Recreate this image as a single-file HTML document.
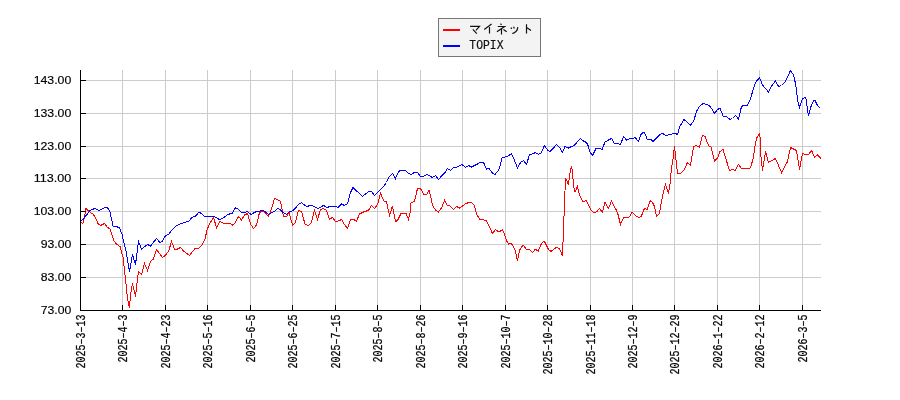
<!DOCTYPE html><html><head><meta charset="utf-8"><style>html,body{margin:0;padding:0;background:#fff;}svg{display:block;will-change:transform;}</style></head><body>
<svg width="900" height="400" viewBox="0 0 900 400">
<rect x="0" y="0" width="900" height="400" fill="#fff"/>
<path d="M122.5 70V310M165.5 70V310M207.5 70V310M250.5 70V310M292.5 70V310M335.5 70V310M377.5 70V310M420.5 70V310M462.5 70V310M505.5 70V310M547.5 70V310M590.5 70V310M632.5 70V310M674.5 70V310M717.5 70V310M759.5 70V310M802.5 70V310M86 80.5H821M86 113.5H821M86 146.5H821M86 178.5H821M86 211.5H821M86 244.5H821M86 277.5H821" stroke="#cccccc" stroke-width="1" fill="none" shape-rendering="crispEdges"/>
<g fill="none" stroke-width="1" stroke-linejoin="miter" stroke-linecap="butt" shape-rendering="crispEdges">
<polyline points="80,221.3 81,222.5 83,223.5 84.5,216.5 86,208.5 88.5,211 90.5,212.5 93,214 95.5,217.5 98,223.5 100.5,225.5 104.5,223.5 107,227 110,229 112.5,236 114,241 117,244.5 120,246.5 123,257 125,274.5 126.5,288.5 127.25,296.5 128.5,303.5 129.5,307.5 130.5,295.5 132.5,283.5 135.5,296.5 137,283.5 138.5,271.5 141.5,274.5 144.5,263.5 147.5,270.5 150.5,261.5 153.5,259 156.5,249.5 162.5,257.5 165,255.5 168.5,251.5 171.5,241.5 174.5,249 177.5,249 180.5,247.5 184,251.5 189.5,255.5 195,248.5 198.5,248.5 202.5,244.5 205,239 207,230 209,225 213.5,217 216.5,228 220,221.5 223,223 229,223 232.5,225 235,223 238.5,216.5 241.5,220 244.5,215 247.5,213.5 250.5,224 253.5,228.5 256.5,225 259.5,212.5 262.5,211 265.5,213 268.5,216.5 271.5,209 274.5,198.5 277,199.5 280.5,201.5 283.5,216.5 286.5,216.5 289,212.5 292.5,225 295,223.5 298.5,210.5 301.5,211.5 305,224 308,225.5 311,223.5 314.5,210.5 317.5,219.5 320.5,209.5 323.5,208.5 326.5,210.5 329.5,219 332.5,217.5 335.5,221.5 338.5,221 341.5,219.5 344.5,224.5 347.5,228.5 350.5,219.5 353.5,219.5 356.5,221 359.5,214 364.5,211.5 368.5,210.5 371.5,205.5 374.5,208.5 377.5,204.5 380.5,193.5 384,201 386.5,202 389.5,215.5 392.5,206 395.5,221.5 397.5,220.5 401,213.5 406,213.5 408.5,219.5 410.5,210.5 411,203 414.5,201 417.5,188.5 420.5,188.5 424,194.5 427,194 429,190.5 431,198 432.5,205.5 435.5,210 438.5,212 441.5,208 444.5,200.5 447,205 450,206 453.5,209.5 456.5,206.5 459.5,208 462.5,206 466,203.5 469,202.5 472,203 474.5,205.5 476.5,214 480,220 483,219.5 486.5,221 489,226 492.5,233.5 495.5,229.5 499,232 502.5,229.5 504.5,234 506.5,240.5 508.5,244.25 510.75,243.25 512.5,244.75 514.5,249 515.5,251.5 516.5,257 517.5,260.5 518.5,255 519.5,250.5 520.5,248.5 523.25,245 525.5,248 526.25,249.5 529.5,249.5 532.5,252.5 535.25,249.25 538.5,251.25 539.5,247.75 541.5,243.5 542.5,242.25 544.5,241.5 548.5,249.5 551,251.5 554,249 557,247 559.5,249 562.5,255.5 565.5,178 567,181 568.5,185 569.5,176 570.5,170 571.5,166.5 572.5,171.5 573,178.5 574,188 575,192 577.5,186.5 579.5,195 583,202 586.5,200.5 590.5,209.5 593.5,212.5 596.5,212 599.5,208.5 602.5,212.5 605,202.5 608.5,208.5 611.5,201 616.5,210.5 618,214.5 620.5,224.5 623.5,217.5 629.5,217 632.25,212 636.5,216.5 639,217.5 641.5,216 643.5,210.5 644.5,208.5 647.5,209.5 648.5,205 650.5,200.5 652.5,202.5 654.5,206.5 655.5,211 656.5,216 659.5,213.5 660.5,206.5 661.5,201.5 662.5,196.5 663.5,191.5 665.5,184.5 668.5,193.5 670,184 671.5,168 673,159 674.5,146 676,160 677.5,173.5 680.5,173.5 684,170 687.5,162.5 690.5,165.5 693.5,146.5 696,145.5 699.5,147 702.5,135.5 705,136.5 708.5,145.5 711,147 714.5,161 717.5,158 720,151.5 723,149.5 729.5,170.5 732.5,169.5 735,170.5 738.5,164.5 741.5,168.5 750.5,168 753,159 755,146.5 756.5,138.5 759.5,133.5 760.5,141 760.5,152 762.5,170.5 765.5,151.5 768.5,162.5 772,160.5 775.5,158.5 781.5,172.5 787.5,161.5 790.5,147.5 793.5,149 796.5,150.5 799.5,169.5 802.5,153.5 805,154.5 808.5,154.5 811.5,150.5 814.5,157 817.5,155 821,158.5" stroke="#ff0000"/>
<polyline points="80,221.3 81,220.5 83,219.5 85,216.5 87.5,214 90,210.5 92.5,209.5 95,208.2 98.5,210.5 102,209 105,207.3 107.5,207.5 110,212 113,226 116.5,226.5 119.5,228 122,234 123,239 126,251 129.5,271.5 132.5,254.5 135.5,264.5 138.5,241.5 141.5,249 147.5,244.5 150.5,246 156.5,238.5 160,242.5 162.5,241 165.5,235.5 169,234 172,230 175,226.8 179,224.5 183,223 186,222 189,221 192,217.5 195.5,216 199,212.2 201.5,213.5 204.5,216.5 208,216.5 214,216.5 219.5,219.5 223,218 228,214.5 232.5,213 235.5,207.5 238.5,209.5 241.5,212.5 245,212.5 247,211.2 251,214.5 254.5,212.5 256.5,211.5 259.5,211.2 262.5,210.5 265,211.5 268.5,214.5 271.5,212.5 274.5,211.2 277.5,208.5 280,209.5 283,212.5 286.5,214.5 289.5,211.5 292.5,211 296,207.5 298.5,204.5 301.5,202.5 304.5,205 307,206.5 310,205.5 313,206 318,208.5 323.5,205.5 327,207.5 330,206.5 336.5,206.5 338,207.5 341.5,204 344.5,205.5 347.5,203.5 349,198.5 350.5,192.5 353,187.5 362.5,196.5 368.5,191.5 371.5,191.5 374.5,195.5 380,190 384,186 386.5,182.5 388.5,177.5 392.5,173.5 395.5,178.5 398.5,171.5 401,170.2 405.5,170.2 408.5,173.5 411,174.5 414.5,172.5 417.5,172.5 420.5,176.5 423.5,176.2 427,174.5 432.5,177.5 435.5,175.5 438.5,179.5 442,175.5 445,172.5 447.5,168.5 450.5,170.5 453.5,167.5 457,167.2 462,164.5 465.5,167.5 468.5,165.5 471.5,167 474.5,165.5 477.5,164 480.5,162.2 483.5,162.5 486.5,169 489,168.5 492.5,173 495,174.5 499,169.5 502,158 504.5,157.2 507.5,156.5 511.5,153.5 514.5,160.5 517.5,168 520.5,162.5 523.5,160.5 526.5,164.5 529.5,154.5 532.5,154 535.5,152.5 538.5,154.5 541,153 544.5,145.5 547.5,150 550,151.5 553,148.5 556.5,144.5 559.5,147.5 562.5,152.5 565,146.5 568.5,148 571.5,146.5 574.5,145.2 577.5,141.5 580.5,138.5 583.5,141 586.5,142.5 588,145.5 590,152 592.5,155.5 596,148.5 599,148 602,149.5 605,142 608.5,140 611.5,138.5 614.5,143.5 618,143.5 620.5,144.5 623.5,136.5 626.5,140 630,138.5 633,138.5 635,137.25 638.5,141.5 639.5,137.75 641.5,133.5 644,132.25 645.5,135 647.25,139.25 650.5,139.25 653.25,141.5 660,134.5 662.5,133.25 665.75,135.5 670,134.5 675,133.25 677.5,134.5 679.5,127 684,119.5 690.5,125 693.5,121.5 695,116.5 696.5,111.5 699,107 703,103.5 706,104.2 709,105.5 712,109 714.5,113.5 717,110 720,108.2 723,116 726,116 730,119.5 732.5,118.5 735.5,115.5 738.5,119 739.5,115 741.5,106.5 744,105.2 747.5,105.2 751,97.5 752,93.5 755.5,82.5 759.5,77.5 762.5,85 768.5,92 771,87 775.5,81 778.5,86.5 781.5,85.5 785.5,81.5 790.5,70.5 793.5,75 795.5,83.5 797.5,98.5 798.5,104.5 799.5,107.25 800.5,104 802.5,99 803.75,98.25 805.5,97.5 806.5,100.5 807.5,111 808.5,114.5 809.75,112 810.5,107.5 813.5,101 815,100.5 817.25,105 820.5,108.5" stroke="#0000ff"/>
</g>
<path d="M80.5 70V311M80 310.5H821M80 80.5H86M80 113.5H86M80 146.5H86M80 178.5H86M80 211.5H86M80 244.5H86M80 277.5H86M122.5 305V310M165.5 305V310M207.5 305V310M250.5 305V310M292.5 305V310M335.5 305V310M377.5 305V310M420.5 305V310M462.5 305V310M505.5 305V310M547.5 305V310M590.5 305V310M632.5 305V310M674.5 305V310M717.5 305V310M759.5 305V310M802.5 305V310" stroke="#000" stroke-width="1" fill="none" shape-rendering="crispEdges"/>
<g font-family="Liberation Sans, sans-serif" font-size="11.6" fill="#000" stroke="#000" stroke-width="0.15" text-anchor="end">
<text x="71.3" y="84.2" textLength="37.6" lengthAdjust="spacingAndGlyphs">143.00</text>
<text x="71.3" y="117.2" textLength="37.6" lengthAdjust="spacingAndGlyphs">133.00</text>
<text x="71.3" y="150.2" textLength="37.6" lengthAdjust="spacingAndGlyphs">123.00</text>
<text x="71.3" y="182.2" textLength="37.6" lengthAdjust="spacingAndGlyphs">113.00</text>
<text x="71.3" y="215.2" textLength="37.6" lengthAdjust="spacingAndGlyphs">103.00</text>
<text x="71.3" y="248.2" textLength="30.6" lengthAdjust="spacingAndGlyphs">93.00</text>
<text x="71.3" y="281.2" textLength="30.6" lengthAdjust="spacingAndGlyphs">83.00</text>
<text x="71.3" y="314.2" textLength="30.6" lengthAdjust="spacingAndGlyphs">73.00</text>
</g>
<g font-family="Liberation Mono, monospace" font-size="12.5" fill="#000" stroke="#000" stroke-width="0.25">
<text transform="translate(84.5,314.5) rotate(-90)" text-anchor="end" textLength="54.0" lengthAdjust="spacingAndGlyphs">2025&#8211;3&#8211;13</text>
<text transform="translate(126.5,314.5) rotate(-90)" text-anchor="end" textLength="48.0" lengthAdjust="spacingAndGlyphs">2025&#8211;4&#8211;3</text>
<text transform="translate(169.5,314.5) rotate(-90)" text-anchor="end" textLength="54.0" lengthAdjust="spacingAndGlyphs">2025&#8211;4&#8211;23</text>
<text transform="translate(211.5,314.5) rotate(-90)" text-anchor="end" textLength="54.0" lengthAdjust="spacingAndGlyphs">2025&#8211;5&#8211;16</text>
<text transform="translate(254.5,314.5) rotate(-90)" text-anchor="end" textLength="48.0" lengthAdjust="spacingAndGlyphs">2025&#8211;6&#8211;5</text>
<text transform="translate(296.5,314.5) rotate(-90)" text-anchor="end" textLength="54.0" lengthAdjust="spacingAndGlyphs">2025&#8211;6&#8211;25</text>
<text transform="translate(339.5,314.5) rotate(-90)" text-anchor="end" textLength="54.0" lengthAdjust="spacingAndGlyphs">2025&#8211;7&#8211;15</text>
<text transform="translate(381.5,314.5) rotate(-90)" text-anchor="end" textLength="48.0" lengthAdjust="spacingAndGlyphs">2025&#8211;8&#8211;5</text>
<text transform="translate(424.5,314.5) rotate(-90)" text-anchor="end" textLength="54.0" lengthAdjust="spacingAndGlyphs">2025&#8211;8&#8211;26</text>
<text transform="translate(466.5,314.5) rotate(-90)" text-anchor="end" textLength="54.0" lengthAdjust="spacingAndGlyphs">2025&#8211;9&#8211;16</text>
<text transform="translate(509.5,314.5) rotate(-90)" text-anchor="end" textLength="54.0" lengthAdjust="spacingAndGlyphs">2025&#8211;10&#8211;7</text>
<text transform="translate(551.5,314.5) rotate(-90)" text-anchor="end" textLength="60.0" lengthAdjust="spacingAndGlyphs">2025&#8211;10&#8211;28</text>
<text transform="translate(594.5,314.5) rotate(-90)" text-anchor="end" textLength="60.0" lengthAdjust="spacingAndGlyphs">2025&#8211;11&#8211;18</text>
<text transform="translate(636.5,314.5) rotate(-90)" text-anchor="end" textLength="54.0" lengthAdjust="spacingAndGlyphs">2025&#8211;12&#8211;9</text>
<text transform="translate(678.5,314.5) rotate(-90)" text-anchor="end" textLength="60.0" lengthAdjust="spacingAndGlyphs">2025&#8211;12&#8211;29</text>
<text transform="translate(721.5,314.5) rotate(-90)" text-anchor="end" textLength="54.0" lengthAdjust="spacingAndGlyphs">2026&#8211;1&#8211;22</text>
<text transform="translate(763.5,314.5) rotate(-90)" text-anchor="end" textLength="54.0" lengthAdjust="spacingAndGlyphs">2026&#8211;2&#8211;12</text>
<text transform="translate(806.5,314.5) rotate(-90)" text-anchor="end" textLength="48.0" lengthAdjust="spacingAndGlyphs">2026&#8211;3&#8211;5</text>
</g>
<rect x="438.5" y="18.5" width="102" height="38" fill="#f3f3f3" stroke="#777777" stroke-width="1"/>
<path d="M443 30H460" stroke="#ff0000" stroke-width="2"/>
<path d="M443 46H460" stroke="#0000ff" stroke-width="2"/>
<path d="M470.1 26.3H479.5L475.9 30.4M472.8 29.4L476.8 33.6M491.6 24.1L484.2 29.6M489.5 27.0V33.6M500.4 23.8L501.6 24.7M497.8 26.5H504.6L496.9 31.8M501.5 29.2V34.6M503.4 29.4L506.7 31.8M510.9 27.4L511.7 29.1M513.5 26.8L514.4 28.6M517.8 27.1C517.6 30.4 515.2 32.6 512.4 33.6M526.5 24.2V33.6M527.0 27.8L531.0 30.6" stroke="#111" stroke-width="1.2" fill="none"/>
<text x="469.3" y="49" font-family="Liberation Mono, monospace" font-size="12.5" fill="#111" stroke="#111" stroke-width="0.2" textLength="34.2" lengthAdjust="spacingAndGlyphs">TOPIX</text>
</svg></body></html>
